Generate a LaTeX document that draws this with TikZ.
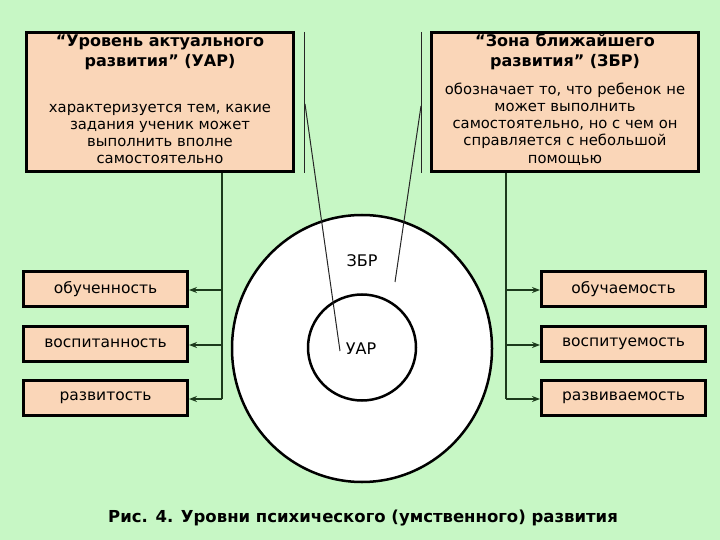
\documentclass[tikz,border=0pt]{standalone}
\usepackage{fontspec}
\setmainfont{DejaVu Sans}
\usetikzlibrary{arrows.meta,shapes.geometric}
\definecolor{bg}{RGB}{199,247,197}
\definecolor{peach}{RGB}{250,214,184}
\definecolor{conn}{RGB}{28,58,28}
\begin{document}
\begin{tikzpicture}[x=1pt,y=-1pt,
  bigbox/.style={draw=black,line width=3pt,fill=peach,minimum width=267pt,minimum height=139pt,inner sep=0pt},
  smallbox/.style={draw=black,line width=3pt,fill=peach,minimum width=164pt,minimum height=35pt,inner sep=0pt,font=\fontsize{15.5}{18}\selectfont},
  titletext/.style={align=center,inner sep=0pt,font=\fontsize{16}{20}\selectfont\bfseries},
  bodytext/.style={align=center,inner sep=0pt,font=\fontsize{14.8}{17.2}\selectfont},
  zone/.style={ellipse,draw=black,line width=2.5pt,fill=white,inner sep=0pt},
  thin/.style={draw=black!85,line width=1pt},
  bus/.style={draw=conn,line width=1.6pt},
  arr/.style={bus,-{Stealth[length=8pt,width=6pt]}},
  zonelabel/.style={inner sep=0pt,font=\fontsize{16}{18}\selectfont}]
\useasboundingbox (0,0) rectangle (720,540);
\fill[bg] (0,0) rectangle (720,540);

% top boxes
\node[bigbox] (uar) at (160,102) {};
\node[titletext] (uart) at (160,52) {“Уровень актуального\\развития” (УАР)};
\node[bodytext] (uarb) at (160,134) {характеризуется тем, какие\\задания ученик может\\выполнить вполне\\самостоятельно};

\node[bigbox] (zbr) at (565,102) {};
\node[titletext] (zbrt) at (565,52) {“Зона ближайшего\\развития” (ЗБР)};
\node[bodytext] (zbrb) at (565,124) {обозначает то, что ребенок не\\может выполнить\\самостоятельно, но с чем он\\справляется с небольшой\\помощью};

% circles
\node[zone,minimum width=260pt,minimum height=267pt] (outer) at (362,348.5) {};
\node[zone,minimum width=108pt,minimum height=106pt] (inner) at (362,347.5) {};
\node[zonelabel] (zl) at (362,261) {ЗБР};
\node[zonelabel] (ul) at (361,349) {УАР};

% pointer lines
\coordinate (lv1) at (304,32);
\coordinate (lv2) at (304,173);
\coordinate (ls1) at (305,104);
\coordinate (ls2) at (340,351);
\coordinate (rv1) at (421,32);
\coordinate (rv2) at (421,173);
\coordinate (rs1) at (421,106);
\coordinate (rs2) at (395,282);
\draw[thin] (lv1) -- (lv2);
\draw[thin] (ls1) -- (ls2);
\draw[thin] (rv1) -- (rv2);
\draw[thin] (rs1) -- (rs2);

% small boxes
\node[smallbox] (l1) at (105.5,289) {обученность};
\node[smallbox] (l2) at (105.5,343.5) {воспитанность};
\node[smallbox] (l3) at (105.5,398) {развитость};
\node[smallbox] (r1) at (623.5,289) {обучаемость};
\node[smallbox] (r2) at (623.5,343.5) {воспитуемость};
\node[smallbox] (r3) at (623.5,398) {развиваемость};

% buses
\coordinate (lb0) at (222,173);
\coordinate (lb1) at (222,290);
\coordinate (lb2) at (222,345);
\coordinate (lb3) at (222,399);
\draw[bus] (lb0) -- (lb3);
\draw[arr] (lb1) -- (l1.east |- lb1);
\draw[arr] (lb2) -- (l2.east |- lb2);
\draw[arr] (lb3) -- (l3.east |- lb3);

\coordinate (rb0) at (506,173);
\coordinate (rb1) at (506,290);
\coordinate (rb2) at (506,345);
\coordinate (rb3) at (506,399);
\draw[bus] (rb0) -- (rb3);
\draw[arr] (rb1) -- (r1.west |- rb1);
\draw[arr] (rb2) -- (r2.west |- rb2);
\draw[arr] (rb3) -- (r3.west |- rb3);

% caption
\node[inner sep=0pt,font=\fontsize{16.5}{19}\selectfont\bfseries] (cap) at (363,518) {Рис. 4. Уровни психического (умственного) развития};
\end{tikzpicture}
\end{document}
